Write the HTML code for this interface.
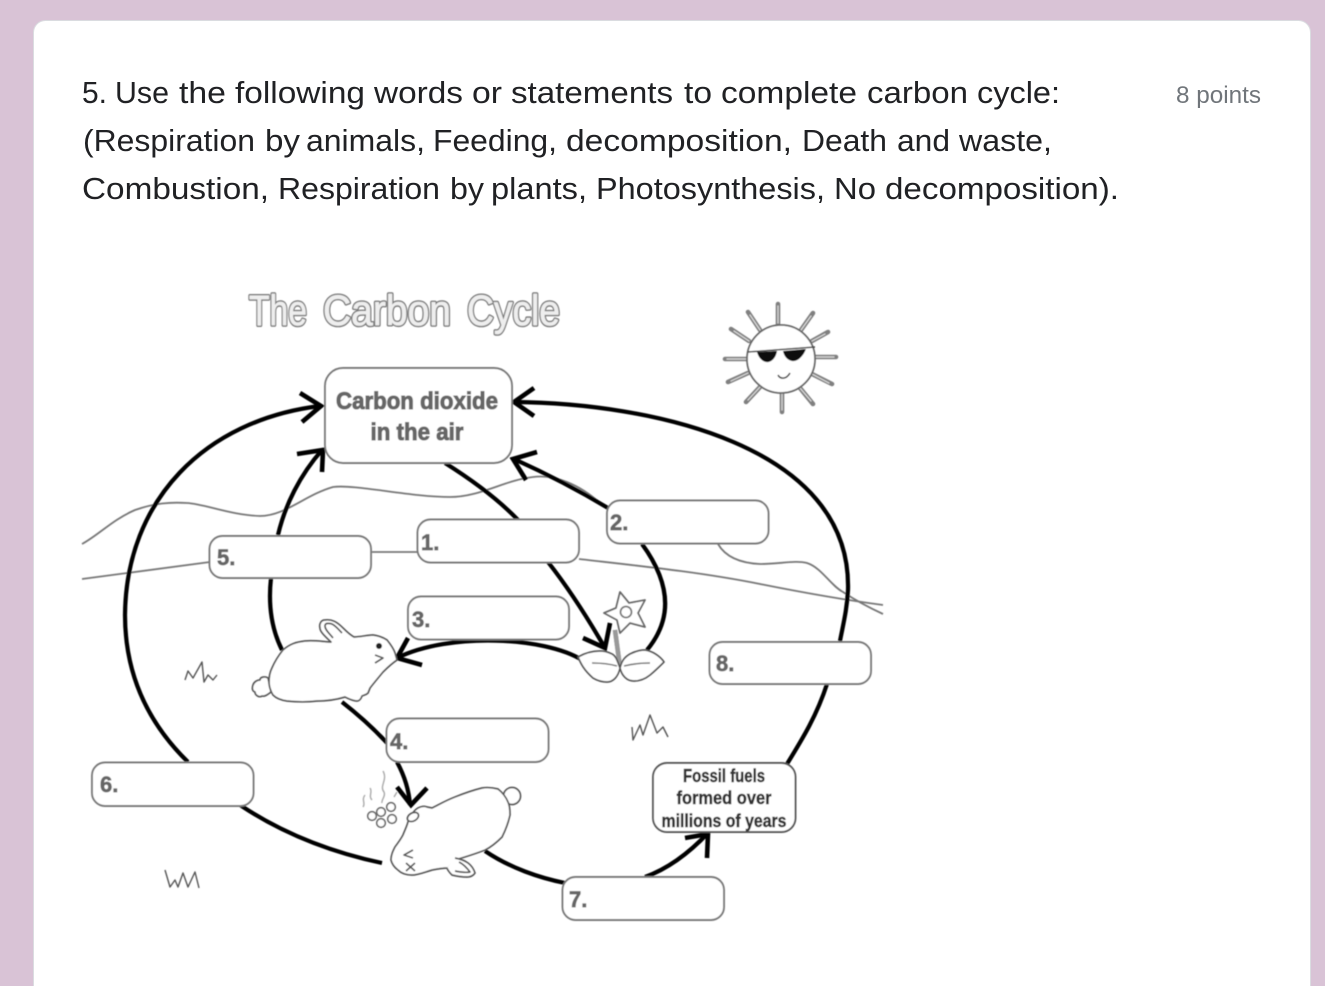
<!DOCTYPE html>
<html>
<head>
<meta charset="utf-8">
<style>
html,body{margin:0;padding:0;width:1325px;height:986px;overflow:hidden;background:#d9c3d6}
svg{position:absolute;left:0;top:0}
text{font-family:"Liberation Sans",sans-serif}
</style>
</head>
<body>
<svg width="1325" height="986" viewBox="0 0 1325 986" xmlns="http://www.w3.org/2000/svg">
<defs><filter id="b" x="-5%" y="-5%" width="110%" height="110%"><feGaussianBlur stdDeviation="0.6"/></filter></defs>
<rect x="33.5" y="20.5" width="1277" height="1000" rx="12" fill="#fff" stroke="#dadce0"/>
<g font-size="31" fill="#202124" lengthAdjust="spacingAndGlyphs">
<text x="82" y="103" textLength="25" lengthAdjust="spacingAndGlyphs">5.</text>
<text x="115" y="103" textLength="54" lengthAdjust="spacingAndGlyphs">Use</text>
<text x="179" y="103" textLength="47" lengthAdjust="spacingAndGlyphs">the</text>
<text x="235" y="103" textLength="130" lengthAdjust="spacingAndGlyphs">following</text>
<text x="374" y="103" textLength="89" lengthAdjust="spacingAndGlyphs">words</text>
<text x="472" y="103" textLength="30" lengthAdjust="spacingAndGlyphs">or</text>
<text x="511" y="103" textLength="162" lengthAdjust="spacingAndGlyphs">statements</text>
<text x="684" y="103" textLength="28" lengthAdjust="spacingAndGlyphs">to</text>
<text x="721" y="103" textLength="136" lengthAdjust="spacingAndGlyphs">complete</text>
<text x="867" y="103" textLength="101" lengthAdjust="spacingAndGlyphs">carbon</text>
<text x="977" y="103" textLength="83" lengthAdjust="spacingAndGlyphs">cycle:</text>

<text x="83" y="151" textLength="172" lengthAdjust="spacingAndGlyphs">(Respiration</text>
<text x="265" y="151" textLength="35" lengthAdjust="spacingAndGlyphs">by</text>
<text x="306" y="151" textLength="119" lengthAdjust="spacingAndGlyphs">animals,</text>
<text x="433" y="151" textLength="124" lengthAdjust="spacingAndGlyphs">Feeding,</text>
<text x="566" y="151" textLength="226" lengthAdjust="spacingAndGlyphs">decomposition,</text>
<text x="802" y="151" textLength="85" lengthAdjust="spacingAndGlyphs">Death</text>
<text x="897" y="151" textLength="53" lengthAdjust="spacingAndGlyphs">and</text>
<text x="959" y="151" textLength="93" lengthAdjust="spacingAndGlyphs">waste,</text>

<text x="82" y="199" textLength="187" lengthAdjust="spacingAndGlyphs">Combustion,</text>
<text x="278" y="199" textLength="162" lengthAdjust="spacingAndGlyphs">Respiration</text>
<text x="450" y="199" textLength="34" lengthAdjust="spacingAndGlyphs">by</text>
<text x="491" y="199" textLength="96" lengthAdjust="spacingAndGlyphs">plants,</text>
<text x="596" y="199" textLength="229" lengthAdjust="spacingAndGlyphs">Photosynthesis,</text>
<text x="834" y="199" textLength="42" lengthAdjust="spacingAndGlyphs">No</text>
<text x="885" y="199" textLength="234" lengthAdjust="spacingAndGlyphs">decomposition).</text>
</g>
<text x="1176" y="103" font-size="24" fill="#70757a" textLength="85" lengthAdjust="spacingAndGlyphs">8 points</text>

<g filter="url(#b)">
<!-- landscape lines -->
<g fill="none" stroke="#777" stroke-width="1.8">
<path d="M82 544C100 534 112 520 135 510C155 503 170 502 187 503C205 504 230 515 260 516C285 516 305 495 333 487C355 484 410 497 450 497C480 497 505 480 533 477C555 474 580 485 600 503"/>
<path d="M718 544C725 556 738 563 760 564C780 564 795 560 807 563C822 568 830 585 843 592C855 600 870 608 883 614"/>
<path d="M82 579L210 562"/>
<path d="M372 552H417"/>
<path d="M579 559C640 566 700 572 760 584C800 592 845 600 883 605"/>
</g>
<!-- thick arrows -->
<g fill="none" stroke="#000" stroke-width="4.2" stroke-linecap="butt" stroke-linejoin="miter">
<path d="M188 762C145 720 125 670 125 615C126 500 205 420 320 406"/>
<path d="M240 805C285 835 335 853 382 863"/>
<path d="M278 535C285 505 300 475 322 450"/>
<path d="M271 578C268 605 272 630 282 650"/>
<path d="M513 402C650 403 852 445 848 590C847 610 843 625 840 641"/>
<path d="M827 684C817 715 803 738 787 764"/>
<path d="M608 508C578 490 545 473 514 459"/>
<path d="M642 544C672 585 672 620 647 650"/>
<path d="M445 463C472 480 497 498 518 520"/>
<path d="M548 562C570 590 590 622 605 648"/>
<path d="M582 660C545 637 450 632 397 658"/>
<path d="M342 702C360 716 375 730 387 743"/>
<path d="M397 762C404 775 409 790 410 805"/>
<path d="M485 851C510 868 540 878 565 883"/>
<path d="M645 877C670 868 690 852 708 833"/>
</g>
<g fill="none" stroke="#000" stroke-width="4.600" stroke-linecap="butt" stroke-linejoin="miter">
<path d="M300 393L321 406L302 422"/>
<path d="M297 454L323 450L322 472"/>
<path d="M534 388L514 402L534 416"/>
<path d="M537 452L513 459L526 480"/>
<path d="M610 623L605 648L583 638"/>
<path d="M408 638L397 658L422 665"/>
<path d="M397 787L411 805L427 788"/>
<path d="M685 838L708 834L707 858"/>
</g>
<!-- boxes -->
<g fill="#fff" stroke="#777" stroke-width="1.9">
<rect x="325" y="368" width="187" height="95" rx="18"/>
<rect x="209.500" y="536" width="161.500" height="42" rx="13"/>
<rect x="417.500" y="519.500" width="161.500" height="43" rx="13"/>
<rect x="607" y="500.500" width="161.500" height="43" rx="13"/>
<rect x="408" y="596.500" width="161" height="43" rx="13"/>
<rect x="386.500" y="718.500" width="162" height="43.500" rx="13"/>
<rect x="92" y="762.500" width="161.500" height="43.500" rx="13"/>
<rect x="562.500" y="877" width="161.500" height="43" rx="13"/>
<rect x="709.500" y="642" width="161.500" height="42" rx="13"/>
<rect x="653" y="763" width="142.500" height="69" rx="14" stroke="#555"/>
</g>
<!-- box labels -->
<g font-size="22" font-weight="bold" fill="#666" stroke="#666" stroke-width=".7">
<text x="421" y="550">1.</text>
<text x="610" y="530">2.</text>
<text x="412" y="627">3.</text>
<text x="390" y="749">4.</text>
<text x="217" y="565">5.</text>
<text x="100" y="792">6.</text>
<text x="569" y="907">7.</text>
<text x="716" y="671">8.</text>
</g>
<g font-size="24" font-weight="bold" fill="#666" stroke="#666" stroke-width="1" text-anchor="middle">
<text x="417" y="409" textLength="162" lengthAdjust="spacingAndGlyphs">Carbon dioxide</text>
<text x="417" y="440" textLength="93" lengthAdjust="spacingAndGlyphs">in the air</text>
</g>
<g font-size="18" font-weight="bold" fill="#333" stroke="#333" stroke-width=".5" text-anchor="middle">
<text x="724" y="782" textLength="82" lengthAdjust="spacingAndGlyphs">Fossil fuels</text>
<text x="724" y="804" textLength="95" lengthAdjust="spacingAndGlyphs">formed over</text>
<text x="724" y="827" textLength="125" lengthAdjust="spacingAndGlyphs">millions of years</text>
</g>
<!-- title -->
<g font-size="43" fill="#777" stroke="#777" stroke-width="3.6" stroke-linejoin="round">
<text x="249" y="325" textLength="58" lengthAdjust="spacingAndGlyphs">The</text>
<text x="323" y="325" textLength="128" lengthAdjust="spacingAndGlyphs">Carbon</text>
<text x="467" y="325" textLength="93" lengthAdjust="spacingAndGlyphs">Cycle</text>
</g>
<g font-size="43" fill="#eee" stroke="#eee" stroke-width=".8" stroke-linejoin="round">
<text x="249" y="325" textLength="58" lengthAdjust="spacingAndGlyphs">The</text>
<text x="323" y="325" textLength="128" lengthAdjust="spacingAndGlyphs">Carbon</text>
<text x="467" y="325" textLength="93" lengthAdjust="spacingAndGlyphs">Cycle</text>
</g>
<!-- sun -->
<g stroke-linecap="round" fill="none">
<path stroke="#808080" stroke-width="4.6" d="M778 304V325M748 312L760 330M813 313L801 330M731 329L749 341M828 332L812 341M725 359H746M836 357H815M728 382L748 373M832 384L812 374M746 402L760 387M813 404L800 388M782 412V393"/>
<path stroke="#ddd" stroke-width="1.2" d="M778 306V323M750 315L760 330M811 316L801 330M734 331L749 341M825 334L812 341M727 359H746M834 357H815M731 381L748 373M829 383L812 374M748 400L760 387M811 401L800 388M782 410V393"/>
</g>
<circle cx="781" cy="359" r="34" fill="#fff" stroke="#666" stroke-width="1.8"/>
<path d="M748 352L815 347" stroke="#444" stroke-width="1.5"/>
<path d="M757 352L777 351C776 358 771 363 766 362C761 361 758 356 757 352Z" fill="#111"/>
<path d="M783 351L806 349C803 357 797 362 792 361C787 360 784 356 783 351Z" fill="#111"/>
<path d="M778 375C780 379 786 380 790 373" fill="none" stroke="#444" stroke-width="1.6"/>
<!-- flower -->
<path d="M615 630L620 667" stroke="#999" stroke-width="4.5"/>
<path d="M620 592L629 603L645 600L638 613L645 627L630 623L620 633L617 620L604 613L616 608Z" fill="#fff" stroke="#666" stroke-width="1.8" stroke-linejoin="round"/>
<circle cx="626" cy="612" r="5.500" fill="#fff" stroke="#777" stroke-width="1.8"/>
<path d="M615 630L620 667" stroke="#999" stroke-width="4.5"/>
<g fill="#fff" stroke="#555" stroke-width="1.7" stroke-linejoin="round">
<path d="M620 668C617 660 616 656 612 654C606 651 603 651 600 651C592 651 585 653 578 657C581 664 584 670 593 678C598 681 603 682 607 682C613 682 618 677 620 668Z"/>
<path d="M620 668C622 660 625 657 630 654C636 651 640 650 645 650C652 651 660 656 664 662C660 666 656 670 650 675C645 679 640 681 634 681C627 681 622 676 620 668Z"/>
</g>
<path d="M592 663C600 663 610 664 617 666M624 666C632 664 642 663 650 663" fill="none" stroke="#777" stroke-width="1.6"/>
<!-- rabbit 1 -->
<g fill="#fff" stroke="#555" stroke-width="1.7" stroke-linejoin="round">
<path d="M253 685C254 682 257 680 260 680C260 677 265 676 268 678L271 692C268 694 265 697 262 696C259 698 255 695 255 692C252 691 252 688 253 685Z"/>
<path d="M283 650C290 644 296 642 305 641C315 640 325 642 331 642C326 637 320 632 320 628C319 624 321 620 325 620C332 619 337 622 343 628C347 632 350 635 354 637C360 637 368 635 373 635C380 636 384 638 387 640C391 645 394 650 395 653L397 660C391 664 387 668 383 672C378 678 373 684 370 688L368 693C366 695 364 695 362 696C361 699 359 701 357 701C353 701 349 699 345 697C335 700 325 701 317 701C308 702 297 702 287 701C280 700 276 698 273 695C270 690 269 686 269 682C269 677 270 672 272 668C275 661 279 655 283 650Z"/>
<path d="M333 638C330 634 325 630 325 626C325 623 328 623 332 624C336 626 339 630 342 633" fill="none"/>
<circle cx="379" cy="646" r="3" fill="#222" stroke="none"/>
<path d="M375 655L383 658L375 663" fill="none"/>
</g>
<!-- dead rabbit -->
<g fill="#fff" stroke="#555" stroke-width="1.7" stroke-linejoin="round">
<circle cx="512" cy="796" r="8.500"/>
<path d="M408 822C411 815 414 810 418 808C422 806 425 806 427 807L432 808C440 804 447 800 455 797C465 793 474 790 482 788C488 787 494 788 498 789C503 793 506 797 508 802C510 806 510 811 510 815C508 824 505 831 502 837C497 842 491 847 485 850C475 854 465 857 455 860C452 864 450 866 448 868C443 868 437 869 432 870C425 872 418 875 412 875C406 875 401 873 398 870C394 867 392 864 391 860C391 855 393 851 395 847C398 843 401 839 403 835C405 830 407 826 408 822Z"/>
<path d="M455 858C460 859 464 860 468 863C472 866 474 870 475 873C473 876 470 877 467 877C461 877 456 876 452 875C450 873 448 871 447 868"/>
<path d="M459 862C463 864 467 868 470 872C465 873 460 872 455 871" fill="none"/>
<ellipse cx="413" cy="817" rx="6" ry="4" transform="rotate(-30 413 817)"/>
<path d="M413 850L404 855L413 858M406 863L415 871M415 863L406 871" fill="none"/>
</g>
<g fill="#fff" stroke="#666" stroke-width="1.6">
<circle cx="372" cy="816" r="4.300"/><circle cx="381" cy="812" r="4.300"/><circle cx="391" cy="807" r="4.300"/><circle cx="392" cy="819" r="4.300"/><circle cx="381" cy="823" r="4.300"/>
</g>
<g fill="none" stroke="#aaa" stroke-width="1.4">
<path d="M383 771C388 780 379 786 384 792C386 796 381 800 382 803"/>
<path d="M370 788C373 792 368 796 372 800"/>
<path d="M365 795C361 800 366 803 363 807"/>
<path d="M397 792L394 797"/>
</g>
<!-- grass -->
<g fill="none" stroke="#555" stroke-width="1.4" stroke-linejoin="round">
<path d="M185 680L188 671L193 678L202 662L204 682L208 675L213 680L217 675"/>
<path d="M165 870L170 887L175 880L178 887L183 873L188 887L195 872L199 888"/>
<path d="M632 727L633 740L640 725L643 735L650 715L657 733L663 727L668 737"/>
</g>
</g>
</svg>
</body>
</html>
